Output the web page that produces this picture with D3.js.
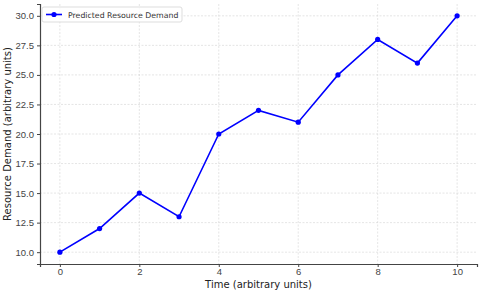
<!DOCTYPE html>
<html>
<head>
<meta charset="utf-8">
<script src="https://cdn.jsdelivr.net/npm/d3@7"></script>
<style>
  body { margin:0; background:#fff; }
  svg { font-family: "DejaVu Sans", sans-serif; }
  .tick text { fill:#444; font-size:9.5px; }
  .grid line { stroke:#d4d4d4; stroke-dasharray:2,1.5; stroke-width:0.6; }
</style>
</head>
<body>
<svg></svg>
<script>
// data
var times = [0, 1, 2, 3, 4, 5, 6, 7, 8, 9, 10];
var demand = [10, 12, 15, 13, 20, 22, 21, 25, 28, 26, 30];
var xTicks = [0, 2, 4, 6, 8, 10];
var yTicks = [10, 12.5, 15, 17.5, 20, 22.5, 25, 27.5, 30];
var seriesName = "Predicted Resource Demand";

var width = 480, height = 291;
var svg = d3.select("svg").attr("width", width).attr("height", height);

var x = d3.scaleLinear().domain([-0.5, 10.5]).range([40, 477]);
var y = d3.scaleLinear().domain([9, 31]).range([264, 4]);

// grid
svg.append("g").attr("class", "grid")
  .selectAll("line").data(xTicks).enter().append("line")
  .attr("x1", d => x(d)).attr("x2", d => x(d))
  .attr("y1", y(31)).attr("y2", y(9));
svg.append("g").attr("class", "grid")
  .selectAll("line").data(yTicks).enter().append("line")
  .attr("x1", x(-0.5)).attr("x2", x(10.5))
  .attr("y1", d => y(d)).attr("y2", d => y(d));

// axes
var xAxis = svg.append("g").attr("transform", "translate(0,264)")
  .call(d3.axisBottom(x).tickValues(xTicks).tickSize(3).tickPadding(1));
var yAxis = svg.append("g").attr("transform", "translate(40,0)")
  .call(d3.axisLeft(y).tickValues(yTicks).tickFormat(d3.format(".1f")).tickSize(3).tickPadding(3));
[xAxis, yAxis].forEach(function(a){
  a.select(".domain").attr("stroke", "#444").attr("stroke-width", 1.2);
  a.selectAll(".tick line").attr("stroke", "#444");
});

// labels
svg.append("text").attr("x", x(5)).attr("y", 287.5)
  .attr("text-anchor", "middle").attr("font-size", 10).attr("fill", "#222")
  .text("Time (arbitrary units)");
svg.append("text")
  .attr("transform", "translate(11," + y(20) + ") rotate(-90)")
  .attr("text-anchor", "middle").attr("font-size", 10).attr("fill", "#222")
  .text("Resource Demand (arbitrary units)");

// line
var line = d3.line().x((d, i) => x(times[i])).y(d => y(d));
svg.append("path").datum(demand)
  .attr("fill", "none").attr("stroke", "#0000ff").attr("stroke-width", 1.6)
  .attr("d", line);
svg.selectAll("circle.pt").data(demand).enter().append("circle")
  .attr("class", "pt")
  .attr("cx", (d, i) => x(times[i])).attr("cy", d => y(d))
  .attr("r", 2.6).attr("fill", "#0000ff");

// legend
var lg = svg.append("g").attr("transform", "translate(42,7)");
lg.append("rect").attr("width", 140).attr("height", 15).attr("rx", 2)
  .attr("fill", "#fff").attr("fill-opacity", 0.8).attr("stroke", "#ddd");
lg.append("line").attr("x1", 4).attr("x2", 20).attr("y1", 7.5).attr("y2", 7.5)
  .attr("stroke", "#0000ff").attr("stroke-width", 1.6);
lg.append("circle").attr("cx", 12).attr("cy", 7.5).attr("r", 2.6).attr("fill", "#0000ff");
lg.append("text").attr("x", 26).attr("y", 10.5).attr("font-size", 7.8).attr("fill", "#333")
  .text(seriesName);
</script>
</body>
</html>
